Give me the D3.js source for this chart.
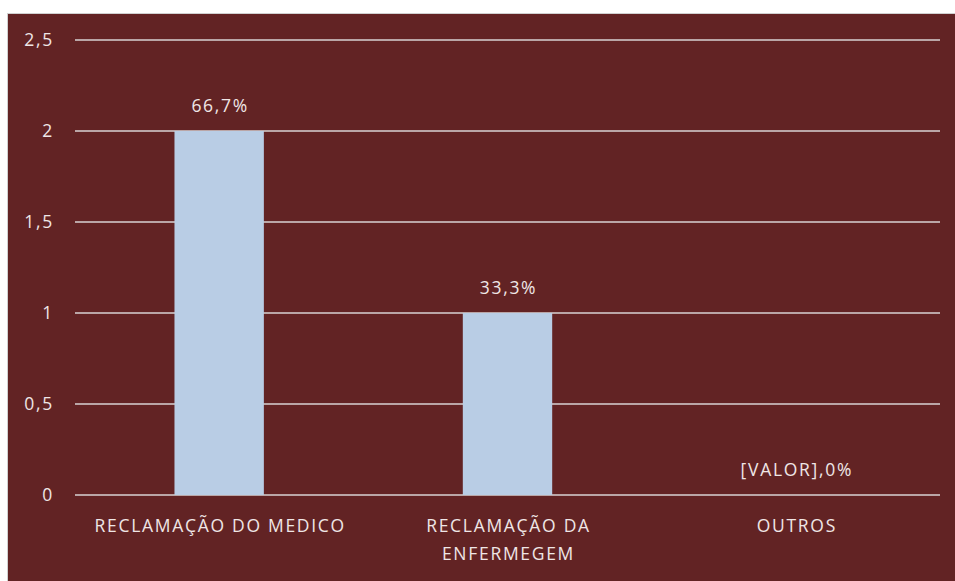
<!DOCTYPE html>
<meta charset="utf-8">
<script src="https://d3js.org/d3.v7.min.js"></script>
<style>
  body { margin: 0; background: #fff; }
  text { font-family: "Open Sans", sans-serif; fill: #efe6e6; letter-spacing: 1.7px; }
</style>
<div id="chart"></div>
<script>
// chart data
const categories = ["RECLAMAÇÃO DO MEDICO", "RECLAMAÇÃO DA ENFERMEGEM", "OUTROS"];
const values = [2, 1, 0];
const valueLabels = ["66,7%", "33,3%", "[VALOR],0%"];
const yTicks = [0, 0.5, 1, 1.5, 2, 2.5];

const W = 955, H = 581;
const margin = {top: 40, right: 15, bottom: 86, left: 75};
const fs = 17.5;

const svg = d3.select("#chart").append("svg")
    .attr("width", W)
    .attr("height", H);

// chart area background
svg.append("rect")
    .attr("x", 7.5).attr("y", 13.5)
    .attr("width", W).attr("height", H)
    .attr("fill", "#622324")
    .attr("stroke", "#d0d0d0");

const x = d3.scaleBand()
    .domain(categories)
    .range([margin.left, W - margin.right])
    .paddingInner(0.69)
    .paddingOuter(0.345);

const y = d3.scaleLinear()
    .domain([0, 2.5])
    .range([H - margin.bottom, margin.top]);

// gridlines
svg.append("g")
  .selectAll("line")
  .data(yTicks)
  .join("line")
    .attr("x1", margin.left)
    .attr("x2", W - margin.right)
    .attr("y1", d => y(d))
    .attr("y2", d => y(d))
    .attr("stroke", "#d9d3d3")
    .attr("stroke-width", 1.5);

// y tick labels
svg.append("g")
  .selectAll("text")
  .data(yTicks)
  .join("text")
    .attr("x", 54)
    .attr("y", d => y(d))
    .attr("dy", "0.35em")
    .attr("text-anchor", "end")
    .attr("font-size", fs)
    .text(d => d3.format("")(d).replace(".", ","));

// bars
svg.append("g")
  .selectAll("rect")
  .data(values)
  .join("rect")
    .attr("x", (d, i) => x(categories[i]))
    .attr("width", x.bandwidth())
    .attr("y", d => y(d))
    .attr("height", d => y(0) - y(d))
    .attr("fill", "#b9cde5");

// value labels
svg.append("g")
  .selectAll("text")
  .data(values)
  .join("text")
    .attr("x", (d, i) => x(categories[i]) + x.bandwidth() / 2 + 1)
    .attr("y", d => y(d) - 19)
    .attr("text-anchor", "middle")
    .attr("font-size", fs)
    .text((d, i) => valueLabels[i]);

// category labels (wrapped like the original)
const catLines = [["RECLAMAÇÃO DO MEDICO"], ["RECLAMAÇÃO DA", "ENFERMEGEM"], ["OUTROS"]];
svg.append("g")
  .selectAll("text")
  .data(categories)
  .join("text")
    .attr("x", d => x(d) + x.bandwidth() / 2 + 1)
    .attr("y", y(0) + 37)
    .attr("text-anchor", "middle")
    .attr("font-size", fs)
    .each(function(d, i) {
      d3.select(this).selectAll("tspan")
        .data(catLines[i])
        .join("tspan")
          .attr("x", x(d) + x.bandwidth() / 2 + 1)
          .attr("dy", (t, j) => j === 0 ? 0 : 28)
          .text(t => t);
    });
</script>
